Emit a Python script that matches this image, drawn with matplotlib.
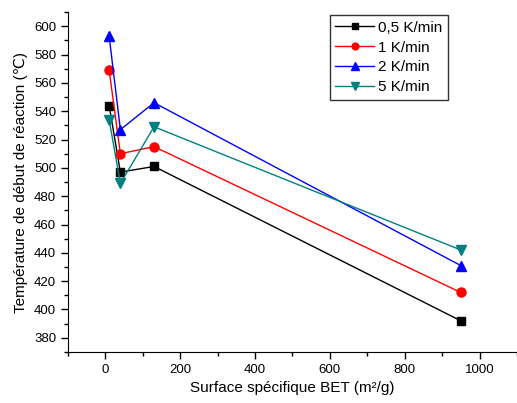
import matplotlib
matplotlib.use("Agg")
import matplotlib.pyplot as plt
from matplotlib.ticker import MultipleLocator

plt.rcParams['font.family'] = ['Liberation Sans', 'DejaVu Sans']

# Données
surface_bet = [10, 40, 130, 950]
t_05 = [544, 497, 501, 392]
t_1 = [569, 510, 515, 412]
t_2 = [593, 527, 546, 431]
t_5 = [534, 489, 529, 442]

series = [
    ("0,5 K/min", t_05, "black", "s", 6),
    ("1 K/min", t_1, "red", "o", 6.5),
    ("2 K/min", t_2, "blue", "^", 7.5),
    ("5 K/min", t_5, "#008080", "v", 7.5),
]

fig = plt.figure(figsize=(5.17, 4.03), dpi=100)
ax = fig.add_axes([0.1315, 0.1266, 0.8685, 0.8434])

for label, vals, col, mk, ms in series:
    ax.plot(surface_bet, vals, color=col, marker=mk, markersize=ms,
            linewidth=1, label=label)

ax.set_xlim(-100, 1100)
ax.set_ylim(370, 610)
ax.xaxis.set_major_locator(MultipleLocator(200))
ax.xaxis.set_minor_locator(MultipleLocator(100))
ax.yaxis.set_major_locator(MultipleLocator(20))
ax.yaxis.set_minor_locator(MultipleLocator(10))
ax.tick_params(which='major', direction='out', length=5, width=1, labelsize=9.5)
ax.tick_params(which='minor', direction='out', length=3, width=1)

ax.spines['top'].set_visible(False)
ax.spines['right'].set_visible(False)

ax.set_xlabel("Surface spécifique BET (m²/g)", fontsize=11)
ax.set_ylabel("Température de début de réaction (℃)", fontsize=11)

leg = ax.legend(loc='upper right', bbox_to_anchor=(0.846, 0.99), borderaxespad=0,
                fancybox=False, edgecolor='black', fontsize=11, markerscale=0.75,
                handlelength=2.5, borderpad=0.35, labelspacing=0.38, handletextpad=0.3)
leg.get_frame().set_linewidth(1)

plt.savefig("out.png", dpi=100)
